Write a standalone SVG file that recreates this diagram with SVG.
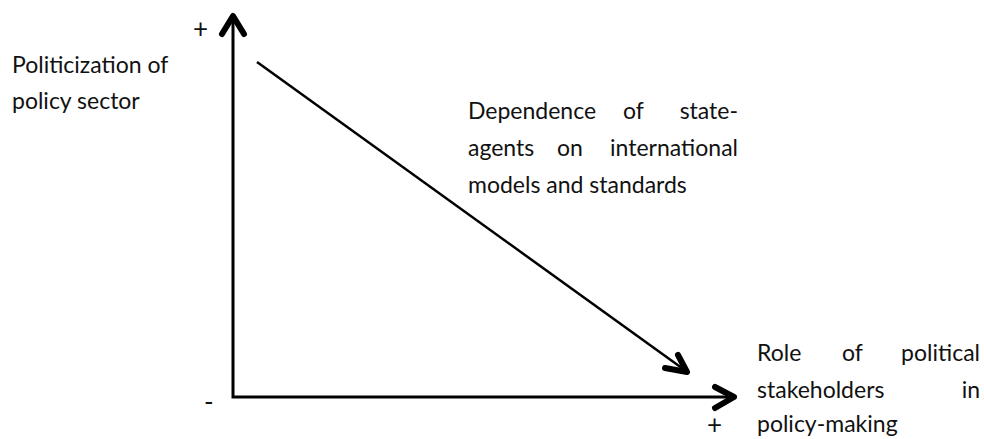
<svg xmlns="http://www.w3.org/2000/svg" width="984" height="439" viewBox="0 0 984 439">
  <style>
    .lbl { font-family: Lato, "Open Sans", sans-serif; font-size: 23px; fill: #111; }
    .mark { font-family: Lato, "Open Sans", sans-serif; font-size: 26px; fill: #111; }
    .axis { stroke: #000; stroke-width: 3; fill: none; }
    .diag { stroke: #000; stroke-width: 2.5; fill: none; }
    .head { stroke: #000; stroke-width: 6; fill: none; stroke-linecap: round; stroke-linejoin: round; }
  </style>
  <rect width="984" height="439" fill="#fff"/>

  <g id="connectors">
    <!-- axes -->
    <polyline class="axis" points="233,18 233,397 733,397"/>
    <polyline class="head" points="222,34 233,16 244,34"/>
    <polyline class="head" points="715,387 734,397 715,408"/>
    <!-- diagonal trend -->
    <line class="diag" x1="257" y1="62" x2="686" y2="371"/>
    <polyline class="head" points="678,355 687,372 665,368"/>
  </g>

  <g id="axis-marks">
    <text class="mark" x="193" y="38">+</text>
    <text class="mark" x="204" y="411">-</text>
    <text class="mark" x="707" y="434">+</text>
  </g>

  <g id="y-label">
    <text class="lbl" x="12" y="73">Politicization of</text>
    <text class="lbl" x="12" y="109">policy sector</text>
  </g>

  <g id="trend-label">
    <text class="lbl" x="468" y="119">Dependence</text>
    <text class="lbl" x="623" y="119">of</text>
    <text class="lbl" x="738" y="119" text-anchor="end">state-</text>
    <text class="lbl" x="468" y="156">agents</text>
    <text class="lbl" x="557" y="156">on</text>
    <text class="lbl" x="738" y="156" text-anchor="end">international</text>
    <text class="lbl" x="468" y="193">models and standards</text>
  </g>

  <g id="x-label">
    <text class="lbl" x="757" y="361">Role</text>
    <text class="lbl" x="842" y="361">of</text>
    <text class="lbl" x="980" y="361" text-anchor="end">political</text>
    <text class="lbl" x="757" y="398">stakeholders</text>
    <text class="lbl" x="980" y="398" text-anchor="end">in</text>
    <text class="lbl" x="757" y="432">policy-making</text>
  </g>
</svg>
